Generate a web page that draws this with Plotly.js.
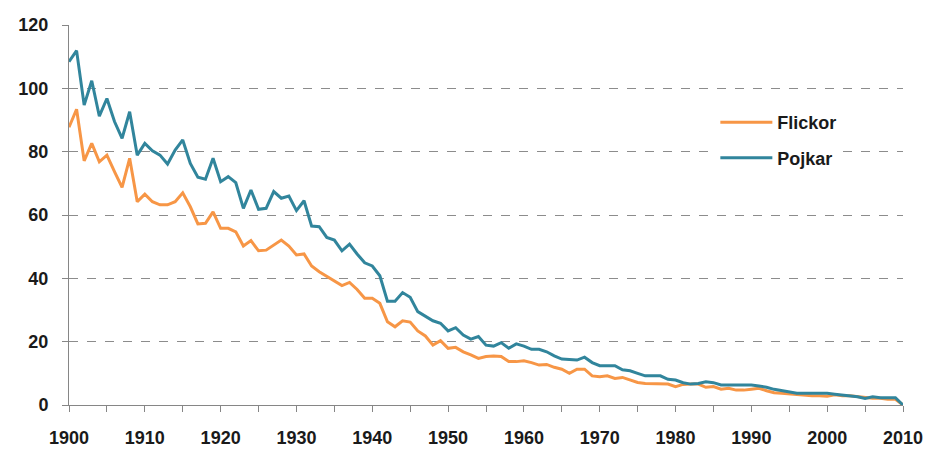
<!DOCTYPE html>
<html>
<head>
<meta charset="utf-8">
<script src="https://cdn.plot.ly/plotly-3.0.1.min.js"></script>
<style>
html,body{margin:0;padding:0;background:#fff;}
#chart{width:927px;height:450px;}
</style>
</head>
<body>
<div id="chart"></div>
<script>
const years = [1900,1901,1902,1903,1904,1905,1906,1907,1908,1909,
1910,1911,1912,1913,1914,1915,1916,1917,1918,1919,
1920,1921,1922,1923,1924,1925,1926,1927,1928,1929,
1930,1931,1932,1933,1934,1935,1936,1937,1938,1939,
1940,1941,1942,1943,1944,1945,1946,1947,1948,1949,
1950,1951,1952,1953,1954,1955,1956,1957,1958,1959,
1960,1961,1962,1963,1964,1965,1966,1967,1968,1969,
1970,1971,1972,1973,1974,1975,1976,1977,1978,1979,
1980,1981,1982,1983,1984,1985,1986,1987,1988,1989,
1990,1991,1992,1993,1994,1995,1996,1997,1998,1999,
2000,2001,2002,2003,2004,2005,2006,2007,2008,2009,
2010];

const flickor = [87.7,93.4,77.1,82.6,76.8,78.9,73.7,68.7,77.9,64.2,
66.6,64.2,63.2,63.2,64.2,67.0,62.6,57.2,57.4,61.0,
55.8,55.8,54.7,50.2,51.9,48.7,48.9,50.5,52.1,50.2,
47.4,47.7,43.9,42.1,40.7,39.3,37.7,38.7,36.5,33.7,
33.7,32.1,26.3,24.7,26.6,26.2,23.4,21.8,18.9,20.3,
17.9,18.2,16.8,15.8,14.7,15.3,15.5,15.3,13.7,13.7,
14.0,13.4,12.6,12.8,11.9,11.3,10.0,11.3,11.3,9.2,
8.9,9.2,8.4,8.7,7.9,7.1,6.8,6.8,6.6,6.6,
5.8,6.5,6.6,6.6,5.6,5.8,5.0,5.3,4.7,4.7,
5.0,5.3,4.5,3.9,3.7,3.5,3.4,3.2,2.95,2.95,
2.8,3.2,2.95,2.95,2.6,2.3,2.1,2.1,1.8,1.8,
0];

const pojkar = [108.4,111.9,94.7,102.4,91.2,96.8,89.5,84.2,92.6,78.9,
82.6,80.3,78.9,76.1,80.5,83.7,76.3,71.9,71.3,77.9,
70.5,72.1,70.2,62.1,67.9,61.8,62.1,67.4,65.3,66.0,
61.4,64.5,56.5,56.3,52.9,52.1,48.7,50.8,47.7,44.9,
43.9,40.8,32.8,32.8,35.5,34.0,29.5,28.1,26.6,25.8,
23.4,24.4,22.1,20.8,21.6,18.9,18.6,19.7,17.9,19.3,
18.6,17.6,17.6,16.8,15.5,14.5,14.4,14.2,15.1,13.4,
12.4,12.4,12.4,11.1,10.8,10.0,9.2,9.2,9.2,8.1,
7.9,7.05,6.6,6.8,7.3,7.05,6.3,6.3,6.3,6.3,
6.3,6.0,5.6,4.95,4.5,4.2,3.7,3.7,3.7,3.7,
3.7,3.4,3.2,2.95,2.6,2.1,2.6,2.3,2.3,2.3,
0];

const seriesNames = ["Flickor", "Pojkar"];
const xTickVals = [1900,1910,1920,1930,1940,1950,1960,1970,1980,1990,2000,2010];
const yTickVals = [0,20,40,60,80,100,120];

const fontFam = "Liberation Sans, Arial, sans-serif";
const txtCol = "#1a1a1a";
const axisCol = "#868686";

const traces = [
  {x: years, y: flickor, name: seriesNames[0], type: "scatter", mode: "lines",
   line: {color: "#F79646", width: 3}, legendgroup: "a"},
  {x: years, y: pojkar, name: seriesNames[1], type: "scatter", mode: "lines",
   line: {color: "#31859C", width: 3}, legendgroup: "b"}
];

const layout = {
  width: 927, height: 450,
  margin: {l: 69, r: 24, t: 25, b: 45},
  paper_bgcolor: "#fff", plot_bgcolor: "#fff",
  font: {family: fontFam, size: 18, color: txtCol, weight: "bold"},
  showlegend: true,
  legend: {
    x: 0.775, y: 0.792, xanchor: "left", yanchor: "top",
    bgcolor: "#fff", borderwidth: 0,
    font: {family: fontFam, size: 18, color: txtCol, weight: "bold"},
    itemwidth: 52, tracegroupgap: 9, traceorder: "grouped"
  },
  xaxis: {
    range: [1900, 2010], tickvals: xTickVals, ticktext: xTickVals.map(String),
    showgrid: false, zeroline: false, showline: true, linecolor: axisCol, linewidth: 1,
    ticks: "outside", ticklen: 6, tickcolor: axisCol, tickwidth: 1,
    minor: {dtick: 5, tick0: 1900, ticks: "outside", ticklen: 6, tickcolor: axisCol, tickwidth: 1, showgrid: false},
    tickfont: {family: fontFam, size: 18, color: txtCol, weight: "bold"},
    ticklabelstandoff: 10, fixedrange: true
  },
  yaxis: {
    range: [0, 120], tickvals: yTickVals,
    showgrid: true, gridcolor: "#8c8c8c", griddash: "dash", gridwidth: 1,
    zeroline: false, showline: true, linecolor: axisCol, linewidth: 1,
    ticks: "outside", ticklen: 6, tickcolor: axisCol, tickwidth: 1,
    tickfont: {family: fontFam, size: 18, color: txtCol, weight: "bold"},
    ticklabelstandoff: 10, fixedrange: true
  }
};

Plotly.newPlot("chart", traces, layout, {displayModeBar: false, staticPlot: true});
</script>
</body>
</html>
